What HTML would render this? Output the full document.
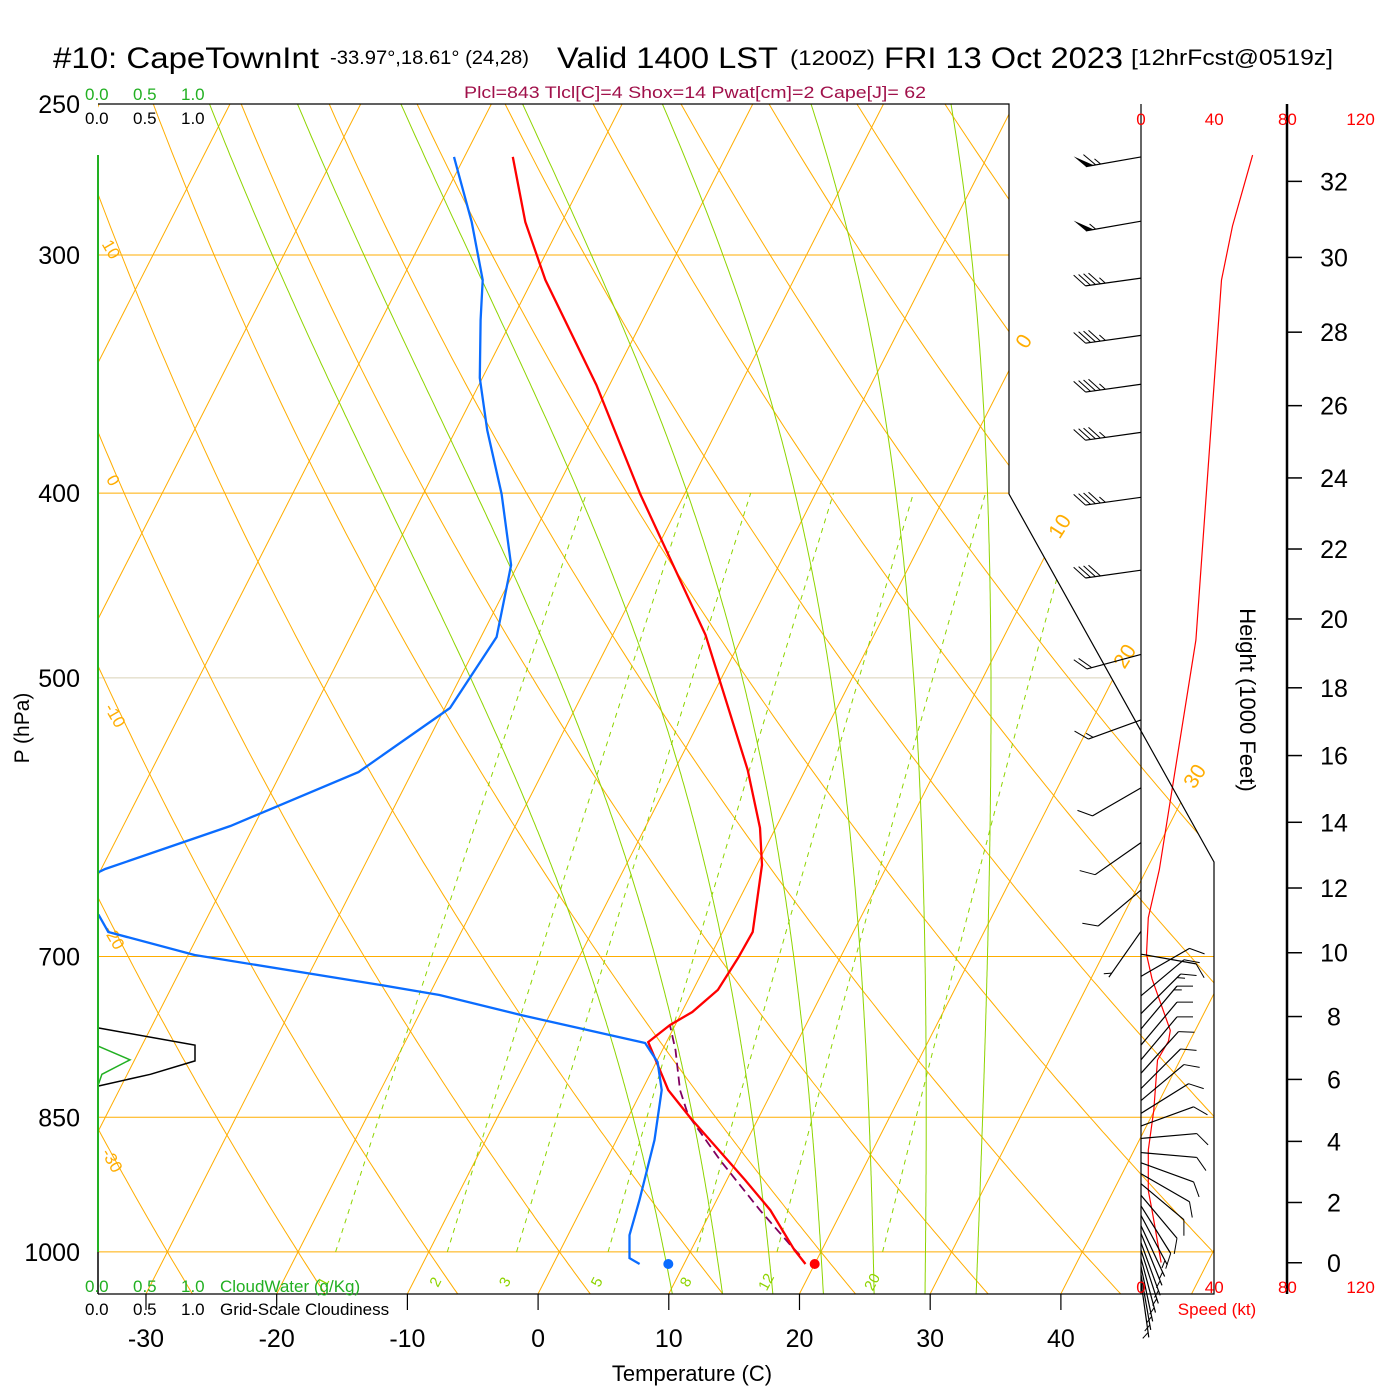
<!DOCTYPE html>
<html><head><meta charset="utf-8"><style>
html,body{margin:0;padding:0;background:#fff;}
svg{display:block;font-family:"Liberation Sans",sans-serif;}
</style></head><body>
<svg id="chart" width="1400" height="1400" viewBox="0 0 1400 1400" xmlns="http://www.w3.org/2000/svg">
<defs><clipPath id="plotclip"><polygon points="98,104 1009,104 1009,494 1214,862 1214,1294 98,1294"/></clipPath></defs>
<rect x="0" y="0" width="1400" height="1400" fill="#fff"/>
<g id="bg" clip-path="url(#plotclip)"></g>
<g id="marks"></g>
<g id="frame">
<polyline points="98,104 1009,104 1009,494 1214,862 1214,1294 98,1294" fill="none" stroke="#000" stroke-width="1.2"/>
<line x1="98" y1="1252" x2="98" y2="1294" stroke="#000" stroke-width="1.5"/>
<line x1="98" y1="155" x2="98" y2="1252" stroke="#22b022" stroke-width="2"/>
<line x1="1141" y1="104" x2="1141" y2="1294" stroke="#000" stroke-width="1.2"/>
<line x1="1287" y1="104" x2="1287" y2="1294" stroke="#000" stroke-width="2.5"/>
</g>
<g font-size="30">
<text x="53" y="68" textLength="266" lengthAdjust="spacingAndGlyphs">#10: CapeTownInt</text>
<text x="330" y="64" font-size="19" textLength="199" lengthAdjust="spacingAndGlyphs">-33.97°,18.61° (24,28)</text>
<text x="557" y="68" textLength="221" lengthAdjust="spacingAndGlyphs">Valid 1400 LST</text>
<text x="790" y="65" font-size="21" textLength="85" lengthAdjust="spacingAndGlyphs">(1200Z)</text>
<text x="884" y="68" textLength="239" lengthAdjust="spacingAndGlyphs">FRI 13 Oct 2023</text>
<text x="1131" y="65" font-size="22" textLength="202" lengthAdjust="spacingAndGlyphs">[12hrFcst@0519z]</text>
</g>
<text x="695" y="98" font-size="17" fill="#a0104a" text-anchor="middle" textLength="462" lengthAdjust="spacingAndGlyphs">Plcl=843 Tlcl[C]=4 Shox=14 Pwat[cm]=2 Cape[J]= 62</text>
<g font-size="17">
<text x="85" y="100" fill="#22b022">0.0</text>
<text x="133" y="100" fill="#22b022">0.5</text>
<text x="181" y="100" fill="#22b022">1.0</text>
<text x="85" y="124" fill="#000">0.0</text>
<text x="133" y="124" fill="#000">0.5</text>
<text x="181" y="124" fill="#000">1.0</text>
</g>
<g font-size="17">
<text x="85" y="1292" fill="#22b022">0.0</text>
<text x="133" y="1292" fill="#22b022">0.5</text>
<text x="181" y="1292" fill="#22b022">1.0</text>
<text x="220" y="1292" fill="#22b022">CloudWater (g/Kg)</text>
<text x="85" y="1315" fill="#000">0.0</text>
<text x="133" y="1315" fill="#000">0.5</text>
<text x="181" y="1315" fill="#000">1.0</text>
<text x="220" y="1315" fill="#000">Grid-Scale Cloudiness</text>
</g>
<text x="0" y="0" font-size="21" transform="translate(29,728) rotate(-90)" text-anchor="middle">P (hPa)</text>
<text x="692" y="1381" font-size="22" text-anchor="middle">Temperature (C)</text>
<text x="0" y="0" font-size="22" transform="translate(1240,700) rotate(90)" text-anchor="middle">Height (1000 Feet)</text>
<text x="1217" y="1315" font-size="17" fill="#f00" text-anchor="middle">Speed (kt)</text>
<g id="axes"></g>
</svg>
<script>
const NS='http://www.w3.org/2000/svg';
// ---- data ----
const pressureTicks=[250,300,400,500,700,850,1000];
const tempTicks=[-30,-20,-10,0,10,20,30,40];
const heightTicks=[0,2,4,6,8,10,12,14,16,18,20,22,24,26,28,30,32];
const speedTicks=[0,40,80,120];
const mixRatios=[1,2,3,5,8,12,20];
const tempP=[266.5,288.3,309.2,351.0,400.4,474.7,558.8,599.3,626.7,679.6,701.2,728.8,748.5,760.4,776.2,822.4,850.7,916.9,950.8,997.8,1014.8];
const tempT=[-46.3,-42.8,-39.0,-31.0,-23.4,-12.9,-4.4,-1.2,0.4,2.3,2.2,1.9,0.8,-0.4,-1.4,2.0,4.8,11.4,14.5,17.9,19.3];
const dewP=[266.5,288.3,309.2,324.5,348.0,370.6,400.4,436.3,475.9,518.5,560.2,597.9,629.8,641.3,655,665.8,679.6,698.7,724.5,733.3,751.2,777.1,795.2,822.4,873.6,939.3,980,1007.6,1014.8];
const dewT=[-50.8,-46.9,-43.8,-42.4,-40.2,-37.6,-34.0,-30.5,-28.8,-29.6,-34.1,-41.8,-49.7,-51.5,-56,-48.4,-47.0,-39.5,-24.1,-19.2,-12.2,-1.6,0.1,1.5,2.9,4.1,4.7,5.6,6.6];
const parcelP=[1003.8,991.8,950.8,895,847.7,822.4,783.7,760.4];
const parcelT=[18.5,17.4,13.7,8.7,4.5,2.9,1.0,-0.4];
const sfcP=1014.8, sfcT=20.0, sfcTd=8.8;
const cloudP=[763,779,794,807,818.6];
const cloudFrac=[0,1.0,1.0,0.54,0];
const cwP=[780,793,807,818];
const cwVal=[0,0.33,0.04,0];
const speedP=[265.9,289.7,309.2,477.6,630.4,667.9,698.0,719.1,765.3,775.4,793.2,842.7,884.4,928.7,950.8,974.7,1013];
const speedKt=[61,50,44,30,10,4,3,6,16,15,9,7,4,4,6,8,11];
const barbP=[266.5,288,308.5,330.6,350.7,371.7,402,439,486,526,571,610,646,679,698,717,734,750,764,779,793,806,821,833,846,859,872,887,898,910,921,934,946,957,969,978,989,998,1008,1018,1028,1037];
const barbDir=[260,260,262,262,262,262,262,262,255,250,240,235,230,215,100,60,50,45,40,40,40,42,45,50,58,70,85,95,110,120,130,140,148,152,155,158,160,162,165,168,170,172];
const barbSpd=[65,55,45,45,45,45,45,40,20,15,12,10,8,5,8,10,12,15,15,12,10,10,10,10,10,10,10,10,10,10,8,8,8,6,6,5,5,5,5,5,5,5];

// ---- scales ----
function yP(p){return 104+828*Math.log(p/250);}
function xT(T,p){return 538+13.07*T+0.51*(1294-yP(p));}
function pH(hkft){return 1013.25*Math.pow(1-6.8756e-6*hkft*1000,5.2559);}
function xS(s){return 1141+1.83*s;}
function xC(v){return 98+97*v;}
function mk(tag,attrs,parent){const e=document.createElementNS(NS,tag);for(const k in attrs)e.setAttribute(k,attrs[k]);parent.appendChild(e);return e;}
function ptsStr(a){return a.map(q=>q[0].toFixed(1)+','+q[1].toFixed(1)).join(' ');}
const bg=document.getElementById('bg'), marks=document.getElementById('marks'), axes=document.getElementById('axes');
const ORANGE='#ffad00', GREEN='#8ed400';

pressureTicks.forEach(p=>{
  if(p===250)return;
  const l=mk('line',{x1:98,x2:1300,y1:yP(p),y2:yP(p),stroke:(p===500)?'#d9d2b8':ORANGE,'stroke-width':1},bg);
  
  
});
for(let T=-90;T<=60;T+=10){
  const l=mk('line',{x1:xT(T,1052),y1:yP(1052),x2:xT(T,250),y2:yP(250),stroke:ORANGE,'stroke-width':1},bg);
  
  
}
for(let th=-40;th<=160;th+=10){
  const a=[];
  for(let p=1060;p>=245;p-=5){const T=(th+273.15)*Math.pow(p/1000,0.2857)-273.15;a.push([xT(T,p),yP(p)]);}
  const l=mk('polyline',{points:ptsStr(a),fill:'none',stroke:ORANGE,'stroke-width':1},bg);
  
  
}
function es(Tc){return 6.112*Math.exp(17.67*Tc/(Tc+243.5));}
function dTdp(T,p){const Tc=T-273.15;const e=es(Tc);const rs=0.622*e/(p-e);return (287*T+2.5e6*rs)/(1004+2.5e6*2.5e6*rs*0.622/(287*T*T))/p;}
for(let tw=8;tw<=32;tw+=4){
  const a=[];let T=tw+273.15,p=1000;
  const down=[];let Td=T;for(let pp=1000;pp<1060;pp+=2){Td+=dTdp(Td,pp)*2;down.push([xT(Td-273.15,pp+2),yP(pp+2)]);}
  down.reverse().forEach(q=>a.push(q));
  a.push([xT(tw,1000),yP(1000)]);
  for(p=1000;p>250;p-=2){T-=dTdp(T,p)*2;a.push([xT(T-273.15,p-2),yP(p-2)]);}
  const l=mk('polyline',{points:ptsStr(a),fill:'none',stroke:GREEN,'stroke-width':1},bg);
  
  
}
mixRatios.forEach(w=>{
  const a=[];
  for(let p=1000;p>=400;p-=10){const e=(w/1000)*p/(0.622+w/1000);const L=Math.log(e/6.112);const Td=243.5*L/(17.67-L);a.push([xT(Td,p),yP(p)]);}
  const l=mk('polyline',{points:ptsStr(a),fill:'none',stroke:GREEN,'stroke-width':1,'stroke-dasharray':'5,5'},bg);
  
  
  const e0=(w/1000)*1030/(0.622+w/1000);const L0=Math.log(e0/6.112);const T0=243.5*L0/(17.67-L0);
  const x0=xT(T0,1030),y0=yP(1030);
  const t=mk('text',{x:0,y:0,transform:`translate(${x0.toFixed(1)},${(y0+8).toFixed(1)}) rotate(-62)`,fill:GREEN,'font-size':15,'text-anchor':'middle'},bg);
  t.textContent=String(w);
  
  
});
const isoLabels=[[0,1025,342],[10,1061,527],[20,1126,657],[30,1196,777]];
isoLabels.forEach(d=>{
  const t=mk('text',{x:0,y:0,transform:`translate(${d[1]},${d[2]}) rotate(-58)`,fill:ORANGE,'font-size':21,'text-anchor':'middle','dominant-baseline':'middle'},marks);
  t.textContent=String(d[0]);
  
  
});
const thLabels=[[10,110,250],[0,112,481],[-10,114,716],[-20,113,938],[-30,111,1161]];
thLabels.forEach(d=>{
  const t=mk('text',{x:0,y:0,transform:`translate(${d[1]},${d[2]}) rotate(60)`,fill:ORANGE,'font-size':17,'text-anchor':'middle','dominant-baseline':'middle'},marks);
  t.textContent=String(d[0]);
  
  
});

const cl=mk('polyline',{points:ptsStr(cloudP.map((p,i)=>[xC(cloudFrac[i]),yP(p)])),fill:'none',stroke:'#000','stroke-width':1.5},marks);


const cw=mk('polyline',{points:ptsStr(cwP.map((p,i)=>[xC(cwVal[i]),yP(p)])),fill:'none',stroke:'#22b022','stroke-width':1.5},marks);



const mg=mk('g',{'clip-path':'url(#plotclip)'},marks);


const par=mk('polyline',{points:ptsStr(parcelP.map((p,i)=>[xT(parcelT[i],p),yP(p)])),fill:'none',stroke:'#800060','stroke-width':1.8,'stroke-dasharray':'9,5'},mg);


const tl=mk('polyline',{points:ptsStr(tempP.map((p,i)=>[xT(tempT[i],p),yP(p)])),fill:'none',stroke:'#f00','stroke-width':2.3},mg);


const dl=mk('polyline',{points:ptsStr(dewP.map((p,i)=>[xT(dewT[i],p),yP(p)])),fill:'none',stroke:'#0a6cff','stroke-width':2.3},mg);


const sd1=mk('circle',{cx:xT(sfcT,sfcP),cy:yP(sfcP),r:5,fill:'#f00'},marks);


const sd2=mk('circle',{cx:xT(sfcTd,sfcP),cy:yP(sfcP),r:5,fill:'#0a6cff'},marks);



const sp=mk('polyline',{points:ptsStr(speedP.map((p,i)=>[xS(speedKt[i]),yP(p)])),fill:'none',stroke:'#f00','stroke-width':1.2},marks);



barbP.forEach((p,i)=>{
  const g=mk('g',{},marks);
  
  
  const d=barbDir[i]*Math.PI/180;
  const ux=Math.sin(d), uy=-Math.cos(d);
  const bx=1141, by=yP(p), L=56;
  const tx=bx+ux*L, ty=by+uy*L;
  mk('line',{x1:bx,y1:by,x2:tx,y2:ty,stroke:'#000','stroke-width':1.2},g);
  const th=50*Math.PI/180;
  const fx=ux*Math.cos(th)-uy*Math.sin(th), fy=ux*Math.sin(th)+uy*Math.cos(th);
  let s=Math.round(barbSpd[i]/5)*5, pos=0;
  while(s>=50){
    const ax=tx-ux*pos, ay=ty-uy*pos, cx=tx-ux*(pos+8), cy=ty-uy*(pos+8);
    mk('polygon',{points:`${ax},${ay} ${ax+fx*16},${ay+fy*16} ${cx},${cy}`,fill:'#000'},g);
    pos+=10;s-=50;
  }
  while(s>=10){
    const ax=tx-ux*pos, ay=ty-uy*pos;
    mk('line',{x1:ax,y1:ay,x2:ax+fx*16,y2:ay+fy*16,stroke:'#000','stroke-width':1},g);
    pos+=5;s-=10;
  }
  if(s>=5){
    if(pos===0)pos=5;
    const ax=tx-ux*pos, ay=ty-uy*pos;
    mk('line',{x1:ax,y1:ay,x2:ax+fx*8,y2:ay+fy*8,stroke:'#000','stroke-width':1},g);
  }
});

pressureTicks.forEach(p=>{
  const t=mk('text',{x:80,y:yP(p)+9,'font-size':25,'text-anchor':'end'},axes);
  t.textContent=String(p);
  
  
});
tempTicks.forEach(T=>{
  const x=xT(T,1052);
  const l=mk('line',{x1:x,x2:x,y1:1294,y2:1310,stroke:'#000','stroke-width':1.2},axes);
  
  
  const t=mk('text',{x:x,y:1347,'font-size':25,'text-anchor':'middle'},axes);
  t.textContent=String(T);
  
  
});
heightTicks.forEach(h=>{
  const y=yP(pH(h));
  const l=mk('line',{x1:1287,x2:1302,y1:y,y2:y,stroke:'#000','stroke-width':1.5},axes);
  
  
  const t=mk('text',{x:1334,y:y+9,'font-size':25,'text-anchor':'middle'},axes);
  t.textContent=String(h);
  
  
});
speedTicks.forEach(s=>{
  [125,1293].forEach(yy=>{
    const t=mk('text',{x:xS(s),y:yy,'font-size':17,fill:'#f00','text-anchor':'middle'},axes);
    t.textContent=String(s);
    
    
  });
});
</script>
</body></html>
